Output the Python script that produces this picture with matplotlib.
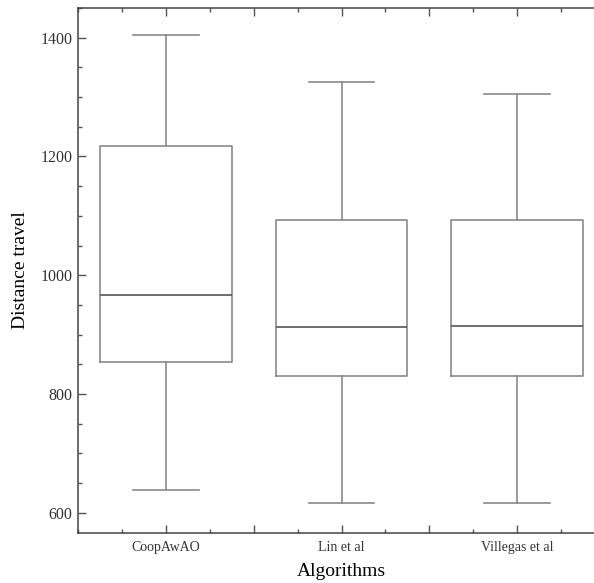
import numpy as np
import matplotlib
matplotlib.use("Agg")
import matplotlib.pyplot as plt
from matplotlib.ticker import MultipleLocator

# box statistics
algorithms = ["CoopAwAO", "Lin et al", "Villegas et al"]
whisker_low = [638, 617, 616]
q1 = [854, 830, 830]
median = [966, 913, 915]
q3 = [1217, 1093, 1093]
whisker_high = [1404, 1326, 1306]

plt.rcParams['font.family'] = ['Liberation Serif', 'DejaVu Serif']

fig = plt.figure(figsize=(5.94, 5.83), dpi=100)
# right edge of the axes falls just outside the picture, as in the reference
ax = fig.add_axes([78 / 594, 50 / 583, 527 / 594, 525 / 583])

stats = []
for i, name in enumerate(algorithms):
    stats.append({
        "label": name,
        "whislo": whisker_low[i],
        "q1": q1[i],
        "med": median[i],
        "q3": q3[i],
        "whishi": whisker_high[i],
        "fliers": [],
    })

box_col = "#8a8a8a"
ax.bxp(stats, positions=np.arange(1, len(algorithms) + 1), widths=0.75,
       showfliers=False,
       boxprops=dict(color=box_col, linewidth=1.2),
       whiskerprops=dict(color=box_col, linewidth=1.2),
       capprops=dict(color=box_col, linewidth=1.2),
       medianprops=dict(color="#555555", linewidth=1.2),
       capwidths=0.375)

ax.set_xlim(0.5, 3.5)
ax.set_ylim(566, 1450)

ax.set_xticks([1, 1.5, 2, 2.5, 3])
ax.set_xticklabels(["CoopAwAO", "", "Lin et al", "", "Villegas et al"], fontsize=10, color="#333333")
ax.xaxis.set_minor_locator(MultipleLocator(0.25))
ax.yaxis.set_major_locator(MultipleLocator(200))
ax.yaxis.set_minor_locator(MultipleLocator(50))
for lab in ax.get_yticklabels():
    lab.set_fontsize(11.5)
    lab.set_color("#333333")

ax.tick_params(which="both", direction="in", top=True, right=True, color="#555555")
ax.tick_params(which="major", length=6, width=1)
ax.tick_params(which="minor", length=3, width=1)
ax.tick_params(axis="y", which="major", pad=4)
ax.tick_params(axis="x", which="major", pad=6)

for sp in ax.spines.values():
    sp.set_color("#444444")
    sp.set_linewidth(1.1)

ax.set_xlabel("Algorithms", fontsize=14, labelpad=6)
ax.set_ylabel("Distance travel", fontsize=14, labelpad=8)

fig.savefig("out.png", dpi=100)
